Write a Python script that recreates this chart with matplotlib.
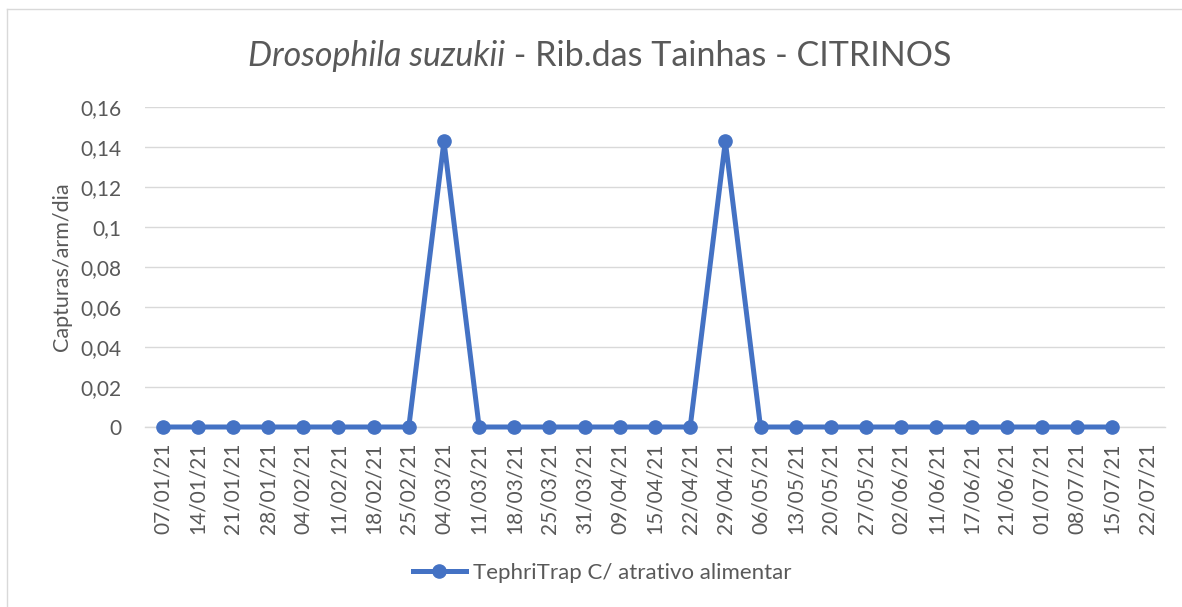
import matplotlib
matplotlib.use("Agg")
import matplotlib.pyplot as plt
from matplotlib.lines import Line2D

plt.rcParams['font.family'] = ['Lato', 'DejaVu Sans']

dates = ["07/01/21", "14/01/21", "21/01/21", "28/01/21", "04/02/21", "11/02/21",
         "18/02/21", "25/02/21", "04/03/21", "11/03/21", "18/03/21", "25/03/21",
         "31/03/21", "09/04/21", "15/04/21", "22/04/21", "29/04/21", "06/05/21",
         "13/05/21", "20/05/21", "27/05/21", "02/06/21", "11/06/21", "17/06/21",
         "21/06/21", "01/07/21", "08/07/21", "15/07/21", "22/07/21"]
values = [0, 0, 0, 0, 0, 0, 0, 0, 0.142857, 0, 0, 0, 0, 0, 0, 0, 0.142857, 0,
          0, 0, 0, 0, 0, 0, 0, 0, 0, 0]
series_name = "TephriTrap C/ atrativo alimentar"
yticks = [0, 0.02, 0.04, 0.06, 0.08, 0.10, 0.12, 0.14, 0.16]
ytick_labels = ["0", "0,02", "0,04", "0,06", "0,08", "0,1", "0,12", "0,14", "0,16"]

W, H = 1182, 607
fig = plt.figure(figsize=(W / 100, H / 100), dpi=100)
ax = fig.add_axes([145 / W, 1 - 427 / H, 1020 / W, 320 / H])

color = "#4472C4"
x = list(range(len(values)))
ax.plot(x, values, color=color, lw=3.6, marker='o', markersize=9.5,
        label=series_name, clip_on=False, zorder=5)

ax.set_xlim(-0.5, len(dates) - 0.5)
ax.set_ylim(0, 0.16)
ax.set_yticks(yticks)
ax.set_yticklabels(ytick_labels)
ax.set_xticks(range(len(dates)))
ax.set_xticklabels(dates, rotation=90)
ax.tick_params(axis='both', length=0, labelsize=15, colors="#595959")
ax.tick_params(axis='x', pad=11)
ax.tick_params(axis='y', pad=17)
ax.grid(axis='y', color="#D9D9D9", lw=1)
ax.set_axisbelow(True)
for s in ['top', 'right', 'left']:
    ax.spines[s].set_visible(False)
ax.spines['bottom'].set_color("#D9D9D9")
ax.spines['bottom'].set_linewidth(1)

ax.set_ylabel("Capturas/arm/dia", fontsize=15.5, color="#595959", labelpad=6)

t1 = "Drosophila suzukii"
t2 = " - Rib.das Tainhas - CITRINOS"
title_y = 1 - 56 / H
tmp = fig.text(0, title_y, t1, fontsize=24.5, style='italic', color="#595959", va='center')
tmp2 = fig.text(0, title_y, t2, fontsize=24.5, color="#595959", va='center')
fig.canvas.draw()
r = fig.canvas.get_renderer()
w1 = tmp.get_window_extent(r).width
w2 = tmp2.get_window_extent(r).width
start = (600 - (w1 + w2) / 2) / W
tmp.set_x(start)
tmp2.set_x(start + w1 / W)

leg = fig.legend(loc='center', bbox_to_anchor=(602 / W, 1 - 573 / H), frameon=False,
                 fontsize=16, handlelength=2.4, handletextpad=0.3)
for t in leg.get_texts():
    t.set_color("#595959")

fig.add_artist(Line2D([7 / W, 7 / W], [0, 1 - 9 / H], transform=fig.transFigure,
                      color="#D9D9D9", lw=1))
fig.add_artist(Line2D([7 / W, 1], [1 - 9 / H, 1 - 9 / H], transform=fig.transFigure,
                      color="#D9D9D9", lw=1))

fig.savefig("out.png", dpi=100)
